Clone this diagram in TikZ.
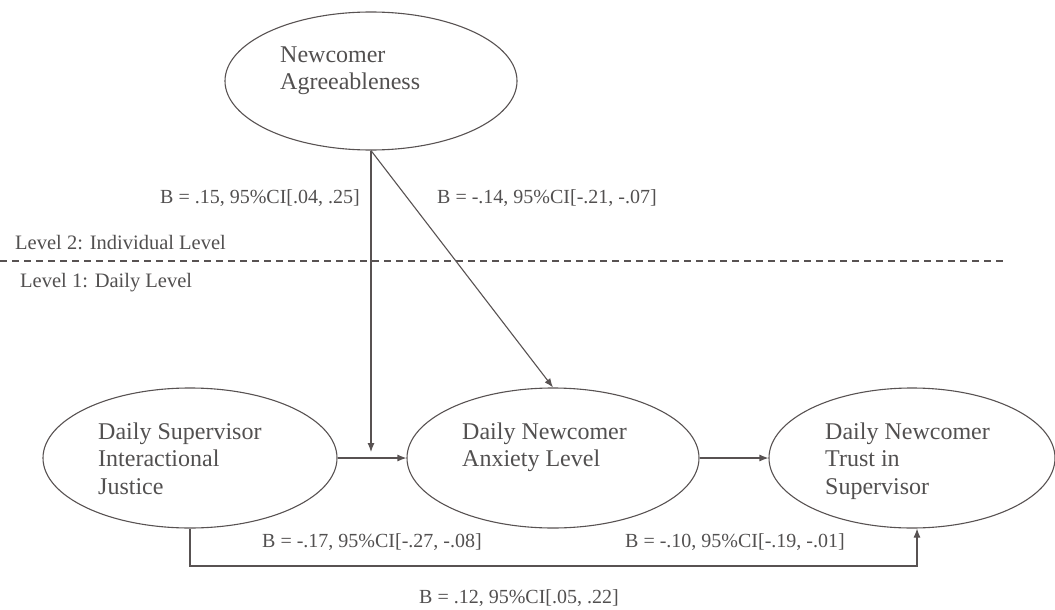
\documentclass[tikz,border=0pt]{standalone}
\usepackage{fontspec}
\setmainfont{Liberation Serif}
\usetikzlibrary{shapes.geometric,arrows.meta}
\definecolor{lc}{RGB}{88,82,82}
\definecolor{tc}{RGB}{82,80,80}
\begin{document}
\begin{tikzpicture}[x=1pt,y=-1pt,
  ell/.style={draw=lc, line width=1.1pt, ellipse, inner sep=0pt, minimum height=140pt},
  etxt/.style={font=\fontsize{24}{28}\selectfont, text=tc, anchor=base west, inner sep=0pt},
  lbl/.style={font=\fontsize{20}{24}\selectfont, text=tc, inner sep=0pt},
  conn/.style={draw=lc, line width=1.1pt},
  arr/.style={conn, -{Latex[length=9pt,width=7pt]}}]
\useasboundingbox (0,0) rectangle (1055,610);
% ellipses
\node[ell, minimum width=292pt, minimum height=138pt] (agr) at (371,81) {};
\node[ell, minimum width=294pt] (ij) at (190,458) {};
\node[ell, minimum width=292pt] (anx) at (553,458) {};
\node[ell, minimum width=286pt] (trust) at (912,458) {};
% ellipse texts
\node[etxt] (agr1) at (280,63) {Newcomer};
\node[etxt] (agr2) at (280,89) {Agreeableness};
\node[etxt] (ij1) at (98,439) {Daily Supervisor};
\node[etxt] (ij2) at (98,466) {Interactional};
\node[etxt] (ij3) at (98,494) {Justice};
\node[etxt] (anx1) at (462,439) {Daily Newcomer};
\node[etxt] (anx2) at (462,466) {Anxiety Level};
\node[etxt] (tr1) at (825,439) {Daily Newcomer};
\node[etxt] (tr2) at (825,466) {Trust in};
\node[etxt] (tr3) at (825,494) {Supervisor};
% level divider
\coordinate (dl) at (0,261);
\coordinate (dr) at (1007,261);
\draw[conn, line width=1.2pt, dash pattern=on 7pt off 5pt] (dl) -- (dr);
\node[lbl, font=\fontsize{20.5}{24}\selectfont, anchor=west] (lev2) at (15,243) {Level 2: Individual Level};
\node[lbl, font=\fontsize{20.5}{24}\selectfont, anchor=west] (lev1) at (20,283) {Level 1: Daily Level};
% connectors
\coordinate (mod) at (371,452);
\draw[arr] (agr.south) -- (mod);
\draw[arr] (agr.south) -- (anx.north);
\draw[arr] (ij.east) -- (anx.west);
\draw[arr] (anx.east) -- (trust.west);
\coordinate (b1) at (917,566);
\draw[arr] (ij.south) |- (b1) -- (b1 |- trust.south);
% labels
\node[lbl, anchor=east] (l15) at (360,198) {B = .15, 95\%CI[.04, .25]};
\node[lbl, anchor=west] (l14) at (437,198) {B = -.14, 95\%CI[-.21, -.07]};
\node[lbl, anchor=west] (l17) at (262,542) {B = -.17, 95\%CI[-.27, -.08]};
\node[lbl, anchor=west] (l10) at (625,542) {B = -.10, 95\%CI[-.19, -.01]};
\node[lbl] (l12) at (519,598) {B = .12, 95\%CI[.05, .22]};
\end{tikzpicture}
\end{document}
